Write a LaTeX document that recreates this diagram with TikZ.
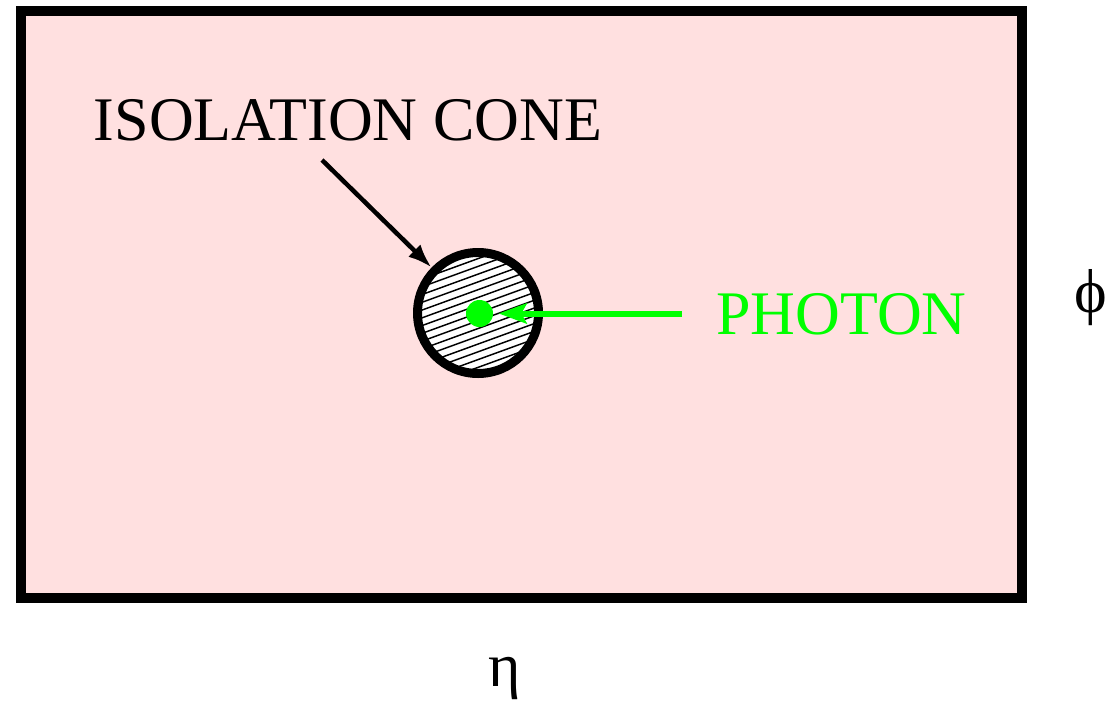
\documentclass[tikz,border=0pt]{standalone}
\usepackage{fontspec}
\setmainfont{Liberation Serif}
\usetikzlibrary{arrows.meta,calc}
\definecolor{bgpink}{RGB}{255,224,224}
\definecolor{pgreen}{RGB}{0,255,0}
\tikzset{
  bigtext/.style={inner sep=0pt, font=\fontsize{46.5pt}{50pt}\selectfont},
  framebox/.style={draw=black, fill=bgpink, line width=7.5pt},
  conecircle/.style={circle, draw=black, fill=white, line width=6.75pt, minimum size=90.75pt, inner sep=0pt,
    path picture={
      \foreach \k in {-10,...,10} {
        \draw[line width=1.1pt, black]
          ($(path picture bounding box.center)+(160:80)+(70:{\k*7.3})$) --
          ($(path picture bounding box.center)+(-20:80)+(70:{\k*7.3})$);
      }
    }},
  photondot/.style={circle, fill=pgreen, minimum size=20.25pt, inner sep=0pt},
  blackarrow/.style={draw=black, line width=3.4pt, -{Latex[length=18pt,width=13pt]}},
  greenarrow/.style={draw=pgreen, line width=4.5pt, -{Stealth[length=21pt,width=15pt,inset=4pt]}, shorten >=4pt},
}
\begin{document}
\begin{tikzpicture}[x=0.75pt, y=-0.75pt]
  \useasboundingbox (0,0) rectangle (1117,703);
  \fill[white] (0,0) rectangle (1117,703);
  \path[framebox] (21,11) rectangle (1022,598);
  \node[conecircle] (cone) at (478,313) {};
  \node[photondot] (dot) at (479.5,313.5) {};
  \node[bigtext, anchor=base] (iso) at (348,140) {ISOLATION CONE};
  \node[bigtext, anchor=base, text=pgreen] (photon) at (841.5,334) {PHOTON};
  \node[bigtext] (phi) at (1091,298) {ϕ};
  \node[bigtext, anchor=base] (eta) at (505,686) {η};
  \coordinate (isotail) at (322,160);
  \coordinate (phtail) at (682,313.5);
  \draw[blackarrow] (isotail) -- (cone);
  \draw[greenarrow] (phtail) -- (dot);
\end{tikzpicture}
\end{document}
